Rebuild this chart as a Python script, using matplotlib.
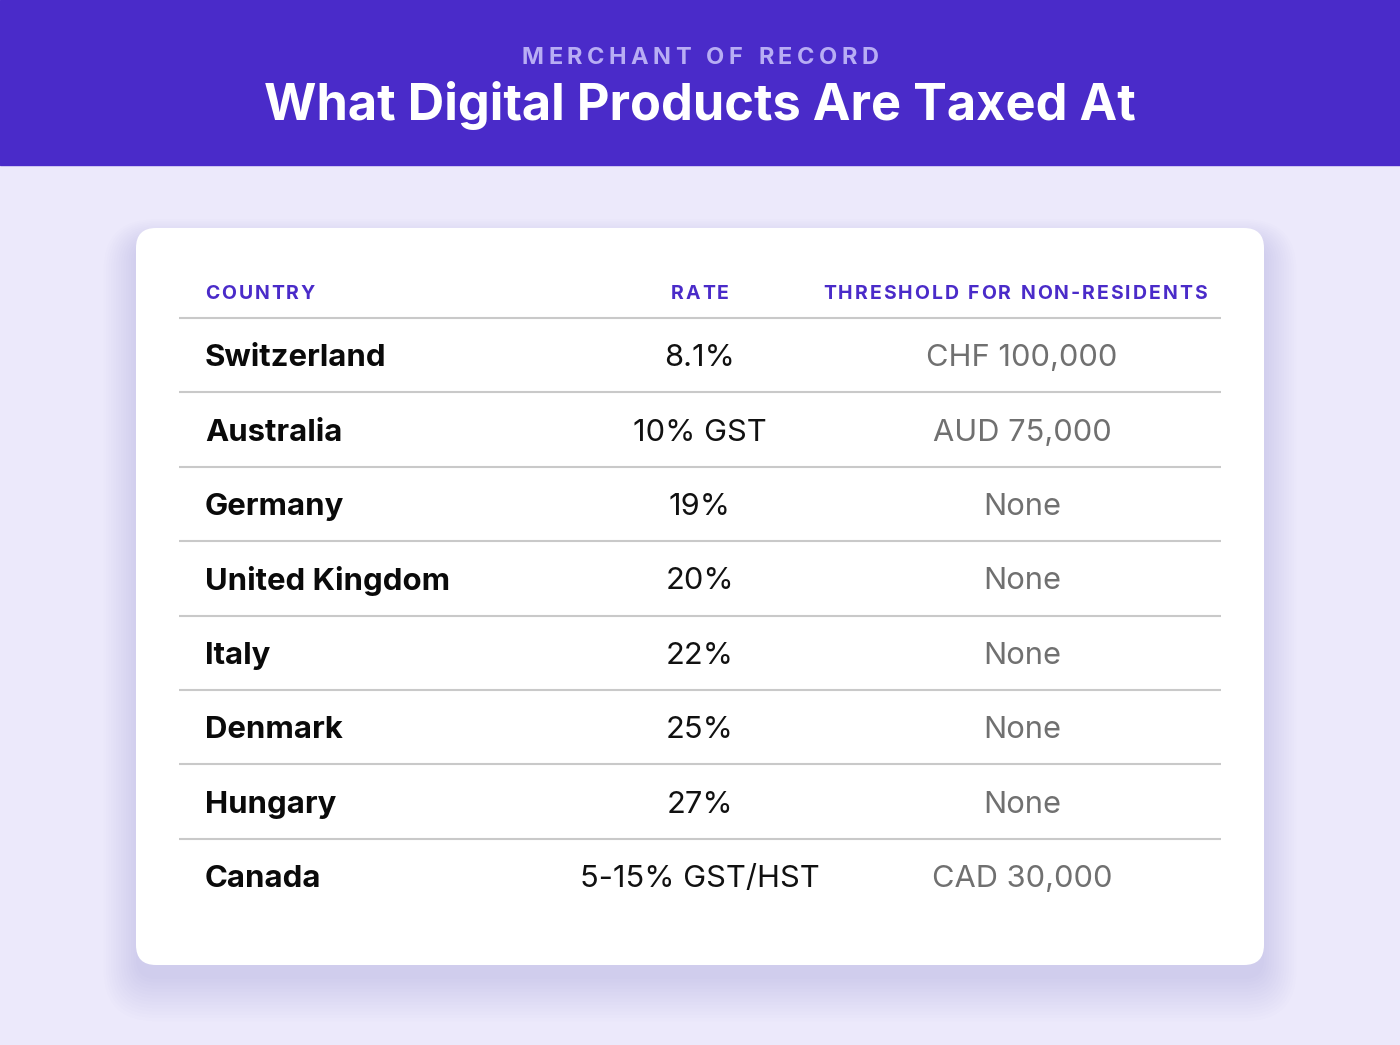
import numpy as np
import matplotlib
matplotlib.use("Agg")
import matplotlib.pyplot as plt
from matplotlib.patches import FancyBboxPatch, Rectangle

plt.rcParams['font.family'] = ['Inter', 'DejaVu Sans']

# dados da tabela
kicker = "MERCHANT OF RECORD"
title = "What Digital Products Are Taxed At"
headers = ["COUNTRY", "RATE", "THRESHOLD FOR NON-RESIDENTS"]
countries = ["Switzerland", "Australia", "Germany", "United Kingdom",
             "Italy", "Denmark", "Hungary", "Canada"]
rates = ["8.1%", "10% GST", "19%", "20%", "22%", "25%", "27%", "5-15% GST/HST"]
thresholds = ["CHF 100,000", "AUD 75,000", "None", "None",
              "None", "None", "None", "CAD 30,000"]

# cores
purple = "#4A2BC9"
bg = "#ECE9FB"
W, H = 1400, 1045

fig = plt.figure(figsize=(W / 100, H / 100), dpi=100)
fig.patch.set_facecolor(bg)
ax = fig.add_axes([0, 0, 1, 1])
ax.set_xlim(0, W)
ax.set_ylim(H, 0)
ax.axis('off')
renderer = fig.canvas.get_renderer()


def spaced_text(x, y, s, spacing, ha='center', **kw):
    # texto com espaçamento entre letras (letter-spacing)
    size_px = kw.get('fontsize', 12) / 0.72
    widths = []
    for ch in s:
        if ch == ' ':
            widths.append(0.28 * size_px)
        else:
            t = ax.text(0, 0, ch, **kw)
            widths.append(t.get_window_extent(renderer).width)
            t.remove()
    total = sum(widths) + spacing * (len(s) - 1)
    if ha == 'center':
        x0 = x - total / 2
    else:
        x0 = x
    for ch, w in zip(s, widths):
        if ch != ' ':
            ax.text(x0, y, ch, ha='left', va='center_baseline', **kw)
        x0 += w + spacing


# faixa do topo
ax.add_patch(Rectangle((0, 0), W, 165, color=purple, zorder=1))
spaced_text(700, 55, kicker, 4.4, fontsize=17, fontweight='bold',
            color="#B8ADF4", zorder=3)
ax.text(700, 101, title, ha='center', va='center_baseline', fontsize=36.4,
        fontweight='bold', color='white', zorder=3)

# sombra do cartão
cx, cy, cw, ch = 136, 228, 1128, 737
for i in range(14):
    grow = 2.5 * i
    ax.add_patch(FancyBboxPatch((cx - grow, cy + 14 - grow * 0.7), cw + 2 * grow,
                                ch + 2 * grow,
                                boxstyle="round,pad=0,rounding_size=%d" % (20 + grow),
                                fc="#8F86C8", ec='none', alpha=0.016, zorder=2))
ax.add_patch(FancyBboxPatch((cx, cy), cw, ch,
                            boxstyle="round,pad=0,rounding_size=20",
                            fc='white', ec='none', zorder=3))

# cabeçalho da tabela
hy = 292
spaced_text(205, hy, headers[0], 2.0, ha='left', fontsize=14,
            fontweight='bold', color=purple, zorder=4)
spaced_text(700, hy, headers[1], 2.0, fontsize=14,
            fontweight='bold', color=purple, zorder=4)
spaced_text(1015, hy, headers[2], 2.0, fontsize=14,
            fontweight='bold', color=purple, zorder=4)

# linhas
row_h = 74.4
first_line = 318
n = len(countries)
for i in range(n):
    ly = first_line + i * row_h
    ax.plot([179, 1221], [ly, ly], color="#C9C9C9", lw=1.5, zorder=4,
            solid_capstyle='butt')
    yc = ly + row_h / 2
    ax.text(205, yc, countries[i], ha='left', va='center_baseline', fontsize=22.4,
            fontweight='bold', color='#0A0A0A', zorder=5)
    ax.text(700, yc, rates[i], ha='center', va='center_baseline', fontsize=22.2,
            color='#111111', zorder=5)
    ax.text(1022, yc, thresholds[i], ha='center', va='center_baseline', fontsize=22.2,
            color='#707070', zorder=5)

fig.savefig("out.png", dpi=100, facecolor=bg)
